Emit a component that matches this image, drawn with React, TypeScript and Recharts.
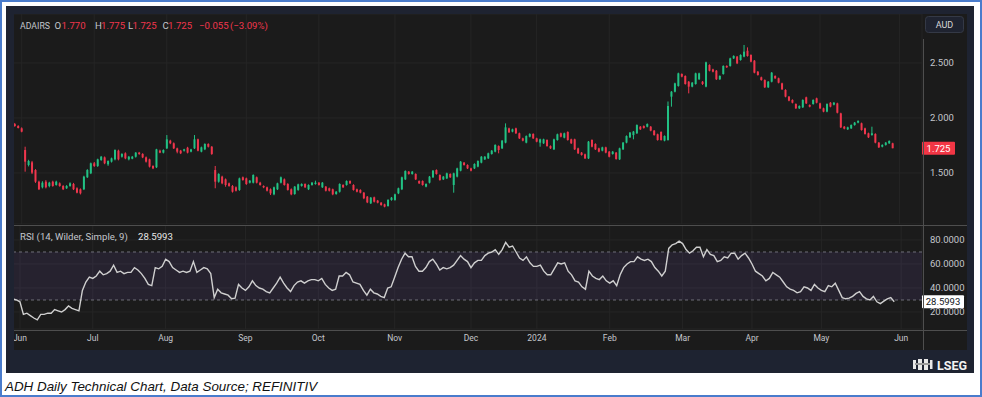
import React from 'react';
import { ComposedChart, Bar, Line, XAxis, YAxis, CartesianGrid, ReferenceArea, ReferenceLine } from 'recharts';

type Ohlc = [number, number, number, number]; // open, high, low, close

// daily candles, one array per month (ASX trading days)
const may23: Ohlc[] = [
  [1.945, 1.955, 1.92, 1.927], [1.927, 1.935, 1.905, 1.909],
];
const jun23: Ohlc[] = [
  [1.906, 1.915, 1.87, 1.876], [1.709, 1.739, 1.512, 1.603], [1.573, 1.62, 1.56, 1.609], [1.597, 1.61, 1.49, 1.503],
  [1.527, 1.535, 1.41, 1.421], [1.421, 1.43, 1.345, 1.352], [1.37, 1.425, 1.36, 1.412], [1.421, 1.435, 1.36, 1.37],
  [1.382, 1.42, 1.37, 1.412], [1.421, 1.43, 1.375, 1.382], [1.391, 1.43, 1.385, 1.421], [1.406, 1.415, 1.375, 1.382],
  [1.382, 1.39, 1.345, 1.352], [1.361, 1.39, 1.355, 1.382], [1.382, 1.415, 1.375, 1.406], [1.4, 1.41, 1.345, 1.352],
  [1.361, 1.37, 1.315, 1.321], [1.352, 1.36, 1.305, 1.315], [1.352, 1.475, 1.345, 1.467], [1.461, 1.535, 1.455, 1.527],
  [1.497, 1.595, 1.49, 1.588],
];
const jul23: Ohlc[] = [
  [1.588, 1.6, 1.555, 1.564], [1.564, 1.63, 1.555, 1.624], [1.618, 1.655, 1.61, 1.648], [1.642, 1.65, 1.58, 1.588],
  [1.579, 1.615, 1.565, 1.609], [1.603, 1.64, 1.595, 1.633], [1.624, 1.715, 1.615, 1.709], [1.703, 1.712, 1.615, 1.624],
  [1.648, 1.68, 1.64, 1.673], [1.679, 1.688, 1.625, 1.633], [1.624, 1.655, 1.615, 1.648], [1.63, 1.655, 1.625, 1.648],
  [1.648, 1.69, 1.64, 1.685], [1.685, 1.692, 1.665, 1.673], [1.673, 1.68, 1.635, 1.642], [1.642, 1.65, 1.595, 1.603],
  [1.624, 1.63, 1.55, 1.558], [1.564, 1.57, 1.535, 1.542], [1.552, 1.72, 1.545, 1.715], [1.703, 1.712, 1.68, 1.685],
  [1.685, 1.715, 1.678, 1.709],
];
const aug23: Ohlc[] = [
  [1.724, 1.845, 1.718, 1.806], [1.794, 1.802, 1.762, 1.77], [1.77, 1.778, 1.718, 1.724], [1.724, 1.73, 1.679, 1.694],
  [1.703, 1.71, 1.672, 1.679], [1.703, 1.72, 1.695, 1.715], [1.73, 1.738, 1.678, 1.685], [1.694, 1.72, 1.688, 1.715],
  [1.724, 1.845, 1.718, 1.806], [1.806, 1.812, 1.697, 1.703], [1.694, 1.74, 1.688, 1.733], [1.715, 1.77, 1.708, 1.764],
  [1.764, 1.77, 1.732, 1.739], [1.739, 1.745, 1.665, 1.673], [1.527, 1.564, 1.361, 1.421], [1.421, 1.498, 1.412, 1.491],
  [1.467, 1.475, 1.398, 1.406], [1.442, 1.45, 1.375, 1.391], [1.406, 1.413, 1.375, 1.382], [1.382, 1.39, 1.322, 1.33],
  [1.37, 1.378, 1.332, 1.339], [1.346, 1.458, 1.338, 1.451], [1.461, 1.468, 1.43, 1.436],
];
const sep23: Ohlc[] = [
  [1.451, 1.458, 1.392, 1.4], [1.412, 1.436, 1.405, 1.43], [1.412, 1.488, 1.405, 1.482], [1.461, 1.468, 1.405, 1.412],
  [1.412, 1.42, 1.385, 1.391], [1.382, 1.388, 1.362, 1.37], [1.37, 1.376, 1.332, 1.339], [1.352, 1.36, 1.3, 1.315],
  [1.306, 1.376, 1.298, 1.37], [1.352, 1.412, 1.345, 1.406], [1.412, 1.468, 1.405, 1.461], [1.442, 1.45, 1.385, 1.391],
  [1.4, 1.408, 1.34, 1.346], [1.352, 1.36, 1.298, 1.306], [1.309, 1.382, 1.302, 1.376], [1.346, 1.403, 1.338, 1.397],
  [1.382, 1.406, 1.376, 1.4], [1.4, 1.406, 1.364, 1.37], [1.352, 1.397, 1.345, 1.391], [1.391, 1.418, 1.385, 1.412],
  [1.4, 1.43, 1.394, 1.412],
];
const oct23: Ohlc[] = [
  [1.412, 1.418, 1.385, 1.391], [1.37, 1.418, 1.364, 1.412], [1.376, 1.382, 1.332, 1.339], [1.361, 1.367, 1.332, 1.339],
  [1.352, 1.358, 1.298, 1.306], [1.309, 1.336, 1.302, 1.33], [1.33, 1.406, 1.322, 1.4], [1.391, 1.398, 1.364, 1.37],
  [1.391, 1.433, 1.385, 1.427], [1.427, 1.433, 1.4, 1.406], [1.391, 1.398, 1.34, 1.346], [1.352, 1.358, 1.324, 1.33],
  [1.346, 1.352, 1.315, 1.321], [1.321, 1.327, 1.262, 1.27], [1.285, 1.291, 1.226, 1.233], [1.224, 1.282, 1.218, 1.276],
  [1.279, 1.285, 1.232, 1.239], [1.249, 1.255, 1.224, 1.23], [1.23, 1.236, 1.202, 1.209], [1.215, 1.221, 1.188, 1.194],
  [1.2, 1.262, 1.194, 1.255], [1.255, 1.282, 1.248, 1.276],
];
const nov23: Ohlc[] = [
  [1.255, 1.312, 1.248, 1.306], [1.315, 1.367, 1.308, 1.361], [1.352, 1.467, 1.345, 1.461], [1.442, 1.524, 1.436, 1.518],
  [1.512, 1.518, 1.485, 1.491], [1.491, 1.518, 1.485, 1.512], [1.491, 1.497, 1.436, 1.442], [1.427, 1.433, 1.4, 1.406],
  [1.427, 1.433, 1.385, 1.391], [1.376, 1.406, 1.37, 1.4], [1.412, 1.473, 1.405, 1.467], [1.461, 1.527, 1.455, 1.521],
  [1.527, 1.533, 1.485, 1.491], [1.482, 1.488, 1.43, 1.436], [1.442, 1.473, 1.436, 1.467], [1.451, 1.503, 1.445, 1.497],
  [1.491, 1.497, 1.455, 1.461], [1.391, 1.503, 1.321, 1.497], [1.467, 1.548, 1.46, 1.542], [1.521, 1.609, 1.515, 1.603],
  [1.594, 1.6, 1.567, 1.573], [1.573, 1.579, 1.536, 1.542],
];
const dec23: Ohlc[] = [
  [1.542, 1.548, 1.515, 1.521], [1.542, 1.588, 1.536, 1.582], [1.558, 1.615, 1.552, 1.609], [1.594, 1.654, 1.588, 1.648],
  [1.624, 1.654, 1.618, 1.648], [1.633, 1.685, 1.627, 1.679], [1.673, 1.709, 1.667, 1.703], [1.694, 1.761, 1.688, 1.755],
  [1.745, 1.751, 1.679, 1.709], [1.724, 1.8, 1.718, 1.794], [1.776, 1.951, 1.77, 1.915], [1.906, 1.912, 1.864, 1.87],
  [1.876, 1.903, 1.87, 1.897], [1.906, 1.912, 1.855, 1.861], [1.861, 1.867, 1.809, 1.815], [1.815, 1.821, 1.788, 1.794],
  [1.776, 1.842, 1.77, 1.836], [1.83, 1.861, 1.824, 1.855], [1.855, 1.861, 1.809, 1.815],
];
const jan24: Ohlc[] = [
  [1.815, 1.821, 1.779, 1.785], [1.776, 1.812, 1.739, 1.806], [1.77, 1.812, 1.764, 1.806], [1.8, 1.806, 1.739, 1.745],
  [1.745, 1.751, 1.718, 1.724], [1.715, 1.812, 1.709, 1.806], [1.8, 1.858, 1.794, 1.852], [1.861, 1.867, 1.824, 1.83],
  [1.821, 1.867, 1.815, 1.861], [1.873, 1.879, 1.794, 1.8], [1.806, 1.812, 1.764, 1.77], [1.806, 1.812, 1.709, 1.715],
  [1.724, 1.73, 1.673, 1.679], [1.685, 1.691, 1.658, 1.664], [1.67, 1.676, 1.627, 1.633], [1.633, 1.791, 1.627, 1.785],
  [1.8, 1.806, 1.733, 1.739], [1.764, 1.77, 1.709, 1.715], [1.724, 1.73, 1.688, 1.694], [1.703, 1.739, 1.697, 1.733],
  [1.733, 1.739, 1.679, 1.685],
];
const feb24: Ohlc[] = [
  [1.694, 1.7, 1.642, 1.648], [1.673, 1.7, 1.667, 1.694], [1.685, 1.691, 1.621, 1.627], [1.624, 1.73, 1.618, 1.724],
  [1.715, 1.782, 1.709, 1.776], [1.776, 1.842, 1.77, 1.836], [1.824, 1.873, 1.818, 1.867], [1.845, 1.882, 1.806, 1.876],
  [1.861, 1.942, 1.855, 1.936], [1.921, 1.927, 1.891, 1.897], [1.927, 1.933, 1.903, 1.909], [1.921, 1.951, 1.915, 1.945],
  [1.921, 1.927, 1.879, 1.885], [1.885, 1.891, 1.839, 1.845], [1.852, 1.858, 1.794, 1.8], [1.873, 1.879, 1.794, 1.8],
  [1.794, 1.842, 1.788, 1.836], [1.8, 2.15, 1.794, 2.109], [2.194, 2.245, 2.103, 2.239], [2.239, 2.321, 2.233, 2.315],
  [2.291, 2.412, 2.285, 2.406],
];
const mar24: Ohlc[] = [
  [2.4, 2.406, 2.37, 2.376], [2.382, 2.388, 2.303, 2.309], [2.33, 2.336, 2.224, 2.285], [2.285, 2.327, 2.279, 2.321],
  [2.309, 2.412, 2.303, 2.406], [2.352, 2.412, 2.346, 2.406], [2.33, 2.336, 2.3, 2.309], [2.285, 2.512, 2.279, 2.506],
  [2.482, 2.488, 2.424, 2.43], [2.442, 2.448, 2.415, 2.421], [2.43, 2.436, 2.346, 2.352], [2.352, 2.388, 2.346, 2.382],
  [2.4, 2.479, 2.394, 2.473], [2.473, 2.479, 2.455, 2.461], [2.473, 2.548, 2.467, 2.542], [2.542, 2.57, 2.536, 2.564],
  [2.558, 2.564, 2.49, 2.497], [2.527, 2.579, 2.521, 2.573], [2.558, 2.664, 2.552, 2.603], [2.612, 2.642, 2.558, 2.564],
];
const apr24: Ohlc[] = [
  [2.573, 2.579, 2.506, 2.512], [2.521, 2.527, 2.406, 2.412], [2.421, 2.427, 2.385, 2.391], [2.37, 2.376, 2.339, 2.345],
  [2.345, 2.351, 2.273, 2.279], [2.279, 2.336, 2.273, 2.33], [2.33, 2.418, 2.324, 2.412], [2.382, 2.388, 2.355, 2.361],
  [2.361, 2.367, 2.315, 2.321], [2.315, 2.321, 2.255, 2.261], [2.255, 2.261, 2.188, 2.194], [2.194, 2.2, 2.152, 2.158],
  [2.164, 2.17, 2.133, 2.139], [2.127, 2.133, 2.082, 2.088], [2.088, 2.115, 2.082, 2.109], [2.097, 2.17, 2.091, 2.164],
  [2.188, 2.194, 2.127, 2.133], [2.118, 2.124, 2.097, 2.103], [2.127, 2.17, 2.121, 2.164], [2.179, 2.185, 2.133, 2.139],
];
const may24: Ohlc[] = [
  [2.133, 2.139, 2.082, 2.088], [2.088, 2.094, 2.052, 2.058], [2.058, 2.133, 2.052, 2.127], [2.139, 2.145, 2.097, 2.103],
  [2.121, 2.145, 2.115, 2.139], [2.133, 2.139, 2.042, 2.048], [2.042, 2.048, 1.909, 1.915], [1.921, 1.927, 1.897, 1.903],
  [1.897, 1.921, 1.891, 1.915], [1.906, 1.942, 1.9, 1.936], [1.936, 1.964, 1.93, 1.958], [1.958, 1.979, 1.952, 1.973],
  [1.952, 1.958, 1.885, 1.891], [1.906, 1.912, 1.849, 1.855], [1.861, 1.867, 1.818, 1.824], [1.845, 1.921, 1.839, 1.861],
  [1.855, 1.861, 1.77, 1.776], [1.776, 1.782, 1.727, 1.733], [1.739, 1.761, 1.733, 1.755], [1.755, 1.782, 1.749, 1.776],
  [1.77, 1.797, 1.764, 1.791], [1.77, 1.775, 1.725, 1.725],
];

// RSI(14) per day, same months
const rsiMay23 = [31, 30];
const rsiJun23 = [28.5, 18, 19, 17, 15, 13.5, 18, 18, 19, 19, 22, 21, 20, 22, 25, 23, 22, 21, 38, 45, 49];
const rsiJul23 = [48, 50, 54, 51, 52, 54, 59, 53, 54, 52, 53, 53, 57, 55, 52, 48, 43, 42, 57, 56, 58];
const rsiAug23 = [64, 62, 57, 55, 53, 54, 53, 54, 62, 53, 55, 57, 56, 52, 32, 39, 36, 35, 34, 31, 31.5, 43, 40];
const rsiSep23 = [38, 41, 46, 42, 40, 39, 37, 36, 40, 44, 49, 44, 40, 37, 42, 45, 46, 44, 46, 47, 47];
const rsiOct23 = [46, 48, 43, 40, 38, 39, 50, 50, 53, 51, 45, 44, 43, 38, 34, 39, 36, 35, 33, 32, 40, 41];
const rsiNov23 = [49, 57, 64, 69, 66, 66, 58, 54, 54, 57, 62, 64, 60, 55, 57, 56, 57, 59, 63, 67, 64, 62];
const rsiDec23 = [57, 61, 63, 63, 67, 69, 70, 72, 68, 72, 78, 74, 75, 70, 65, 63, 66, 61, 58];
const rsiJan24 = [58, 59, 54, 51, 51, 56, 61, 60, 61, 54, 51, 46, 45, 41, 39, 54, 50, 48, 47, 50, 46];
const rsiFeb24 = [44, 46, 42, 51, 57, 60, 62, 62, 66, 64, 63, 64, 62, 57, 54, 50, 54, 73, 76, 77, 79];
const rsiMar24 = [77, 72, 69, 71, 74, 74, 66, 72, 68, 67, 62, 63, 66, 65, 69, 69, 64, 67, 69, 65];
const rsiApr24 = [60, 54, 52, 50, 46, 48, 53, 51, 49, 45, 41, 39, 38, 36, 37, 41, 40, 38, 43, 40];
const rsiMay24 = [38, 37, 42, 41, 44, 38, 32, 31, 31.5, 33, 35.5, 37, 33, 31, 30, 33, 28.5, 27, 29, 31, 32, 28.5993];

const candleMonths = [may23, jun23, jul23, aug23, sep23, oct23, nov23, dec23, jan24, feb24, mar24, apr24, may24];
const rsiMonths = [rsiMay23, rsiJun23, rsiJul23, rsiAug23, rsiSep23, rsiOct23, rsiNov23, rsiDec23, rsiJan24, rsiFeb24, rsiMar24, rsiApr24, rsiMay24];

// first trading day of each month (bar index) and its label
const monthTicks = [2, 23, 44, 67, 88, 110, 132, 151, 172, 193, 213, 233, 256];
const monthLabels = ['Jun', 'Jul', 'Aug', 'Sep', 'Oct', 'Nov', 'Dec', '2024', 'Feb', 'Mar', 'Apr', 'May', 'Jun'];
const priceTicks = [1.5, 2.0, 2.5];
const rsiTicks = [20, 40, 60, 80];
const emptySlots = 8; // right offset after last bar
const lastPrice = 1.725;
const lastRsi = 28.5993;

const GREEN = '#22c184';
const RED = '#f0364d';
const BG = '#1b1b1b';
const FRAME = '#1e2331';
const TXT = '#c4c6cc';
const GRID = '#252525';
const SEP = '#4e4e4e';

const candles = candleMonths.flat();
const rsiVals = rsiMonths.flat();
const data: any[] = [];
for (let i = 0; i < candles.length + emptySlots; i++) {
  const k = candles[i];
  data.push(k
    ? { i, o: k[0], h: k[1], l: k[2], c: k[3], range: [k[2], k[1]], rsi: rsiVals[i] }
    : { i });
}

const Candle = (props: any) => {
  const { x, y, width, height, payload } = props;
  if (!payload || payload.h == null || !isFinite(y)) return null;
  const { o, h, l, c } = payload;
  const k = height / (h - l);
  const yO = y + (h - o) * k;
  const yC = y + (h - c) * k;
  const color = c >= o ? GREEN : RED;
  const cx = x + width / 2;
  return (
    <g>
      <line x1={cx} x2={cx} y1={y} y2={y + height} stroke={color} strokeWidth={1} />
      <rect x={x} y={Math.min(yO, yC)} width={width} height={Math.max(Math.abs(yC - yO), 1)} fill={color} />
    </g>
  );
};

const tag = (text: string, bg: string, fg: string, w: number) => (p: any) => {
  const vb = p.viewBox || {};
  const x = vb.x + vb.width;
  const y = vb.y;
  return (
    <g>
      <rect x={x} y={y - 6.5} width={w} height={13} fill={bg} rx={1} />
      <text x={x + w / 2} y={y + 3.5} textAnchor="middle" fontSize={9.5} fontFamily="Roboto" fill={fg}>{text}</text>
    </g>
  );
};

const tickStyle = { fill: TXT, fontSize: 9.5, fontFamily: 'Roboto' };
const timeTickStyle = { fill: TXT, fontSize: 8.5, fontFamily: 'Roboto' };

export default function App() {
  return (
    <div style={{ position: 'fixed', left: 0, top: 0, width: 982, height: 397, background: '#fff', boxSizing: 'border-box', border: '2px solid #4a7ccc', overflow: 'hidden' }}>
      <div style={{ position: 'absolute', left: 4, top: 4, width: 968, height: 367, background: FRAME }} />
      <div style={{ position: 'absolute', left: 12, top: 12, width: 953, height: 336, background: BG, overflow: 'hidden' }}>
        <div style={{ position: 'absolute', left: -1, top: 0 }}>
          <ComposedChart width={955} height={210} data={data} margin={{ top: 0, right: 0, bottom: 0, left: 0 }} barCategoryGap="22%">
            <CartesianGrid stroke={GRID} />
            <XAxis dataKey="i" type="category" hide ticks={monthTicks} interval={0} />
            <YAxis orientation="right" width={46} domain={[1.03636, 2.94545]} allowDataOverflow ticks={priceTicks}
              tickFormatter={(v: number) => v.toFixed(3)} tick={tickStyle} tickLine={false} axisLine={false} />
            <Bar dataKey="range" shape={<Candle />} isAnimationActive={false} />
            <ReferenceLine y={lastPrice} stroke="none" ifOverflow="visible" label={tag(lastPrice.toFixed(3), '#f23645', '#ffffff', 33)} />
          </ComposedChart>
        </div>
        <div style={{ position: 'absolute', left: -1, top: 211 }}>
          <ComposedChart width={955} height={124} data={data} margin={{ top: 0, right: 0, bottom: 0, left: 0 }}>
            <CartesianGrid stroke={GRID} />
            <ReferenceArea y1={30} y2={70} fill="#7e57c2" fillOpacity={0.12} stroke="none" />
            <ReferenceLine y={70} stroke="#6f7079" strokeDasharray="3 3" />
            <ReferenceLine y={30} stroke="#6f7079" strokeDasharray="3 3" />
            <XAxis dataKey="i" type="category" ticks={monthTicks} interval={0} height={20}
              tickFormatter={(v: number) => monthLabels[monthTicks.indexOf(v)]} tick={timeTickStyle}
              tickLine={false} axisLine={false} tickSize={0} tickMargin={6} />
            <YAxis orientation="right" width={46} domain={[5.833, 92.5]} allowDataOverflow ticks={rsiTicks}
              tickFormatter={(v: number) => v.toFixed(4)} tick={tickStyle} tickLine={false} axisLine={false} />
            <Line dataKey="rsi" stroke="#cfcfcf" strokeWidth={1.4} dot={false} isAnimationActive={false} />
            <ReferenceLine y={lastRsi} stroke="none" ifOverflow="visible" label={tag(lastRsi.toFixed(4), '#ffffff', '#131722', 42)} />
          </ComposedChart>
        </div>
        <div style={{ position: 'absolute', left: 0, top: 211, width: 953, height: 1, background: SEP }} />
        <div style={{ position: 'absolute', left: 0, top: 316, width: 953, height: 1, background: SEP }} />
        <div style={{ position: 'absolute', left: 909, top: 25, width: 1, height: 312, background: SEP }} />
      </div>
      <svg width={982} height={397} style={{ position: 'absolute', left: -2, top: -2 }}>
        <g fontFamily="Roboto" fontSize={9.6}>
          <text x={20} y={28.5} fill={TXT} textLength={30} lengthAdjust="spacingAndGlyphs">ADAIRS</text>
          <text x={54.5} y={28.5} fill={TXT}>O</text>
          <text x={61.5} y={28.5} fill={RED}>1.770</text>
          <text x={95} y={28.5} fill={TXT}>H</text>
          <text x={101} y={28.5} fill={RED}>1.775</text>
          <text x={128} y={28.5} fill={TXT}>L</text>
          <text x={132.5} y={28.5} fill={RED}>1.725</text>
          <text x={162.5} y={28.5} fill={TXT}>C</text>
          <text x={168} y={28.5} fill={RED}>1.725</text>
          <text x={199} y={28.5} fill={RED}>−0.055</text>
          <text x={230} y={28.5} fill={RED}>(−3.09%)</text>
          <text x={20} y={239.5} fill={TXT}>RSI (14, Wilder, Simple, 9)</text>
          <text x={138} y={239.5} fill="#e6e6e6">28.5993</text>
        </g>
        <rect x={925.5} y={16.5} width={38} height={16} rx={3} fill="#1f2330" stroke="#343946" />
        <text x={944.5} y={28} textAnchor="middle" fontFamily="Roboto" fontSize={9} fill="#d8d8d8">AUD</text>
        <g fill="#e8e8e8">
          <rect x={913} y={360} width={3} height={9} />
          <rect x={918} y={359} width={4} height={11} />
          <rect x={924} y={359} width={4} height={11} />
          <rect x={930} y={360} width={2.5} height={9} />
          <rect x={915} y={363} width={15} height={2} fill="#9a9a9a" />
        </g>
        <text x={937} y={369.5} fontFamily="Roboto" fontWeight="bold" fontSize={12.5} fill="#f2f2f2">LSEG</text>
        <text x={5} y={391} fontFamily="Liberation Sans" fontStyle="italic" fontSize={13.4} fill="#111">ADH Daily Technical Chart, Data Source; REFINITIV</text>
      </svg>
    </div>
  );
}
